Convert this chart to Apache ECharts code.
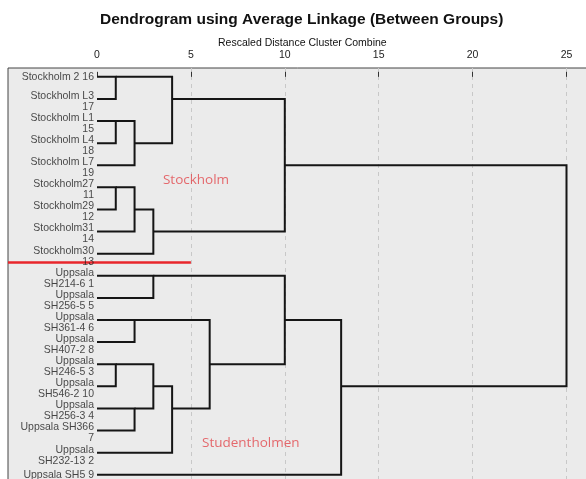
<!DOCTYPE html>
<html>
<head>
<meta charset="utf-8">
<script src="https://cdn.jsdelivr.net/npm/echarts@6/dist/echarts.min.js"></script>
<style>
  html, body { margin: 0; padding: 0; background: #fff; }
  #chart { width: 586px; height: 479px; }
</style>
</head>
<body>
<div id="chart"></div>
<script>
// leaf labels, top to bottom (SPSS wraps the case number when the name is long)
const leafLabels = [
  'Stockholm 2 16', 'Stockholm L3\n17', 'Stockholm L1\n15', 'Stockholm L4\n18',
  'Stockholm L7\n19', 'Stockholm27\n11', 'Stockholm29\n12', 'Stockholm31\n14',
  'Stockholm30\n13', 'Uppsala\nSH214-6 1', 'Uppsala\nSH256-5 5', 'Uppsala\nSH361-4 6',
  'Uppsala\nSH407-2 8', 'Uppsala\nSH246-5 3', 'Uppsala\nSH546-2 10', 'Uppsala\nSH256-3 4',
  'Uppsala SH366\n7', 'Uppsala\nSH232-13 2', 'Uppsala SH5 9'
];

// merges: [clusterA, clusterB, rescaled distance]; ids >= 19 are earlier merges
const merges = [
  [0, 1, 1], [2, 3, 1], [20, 4, 2], [19, 21, 4],
  [5, 6, 1], [23, 7, 2], [24, 8, 3], [22, 25, 10],
  [9, 10, 3], [11, 12, 2], [13, 14, 1], [15, 16, 2],
  [29, 30, 3], [31, 17, 4], [28, 32, 6], [27, 33, 10],
  [34, 18, 13], [26, 35, 25]
];

const xTicks = [0, 5, 10, 15, 20, 25];

// group annotations: [text, distance, row]
const groupNotes = [['Stockholm', 3.51, 4.67], ['Studentholmen', 5.59, 16.57]];
const separator = { row: 8.37, from: -4.74, to: 5 };

// build the elbow links, SPSS style (cluster row = lower midpoint of children rows)
const nodes = leafLabels.map((_, i) => ({ row: i, height: 0 }));
const links = merges.map(([a, b, d]) => {
  const na = nodes[a], nb = nodes[b];
  nodes.push({ row: Math.floor((na.row + nb.row) / 2), height: d });
  return { coords: [[na.height, na.row], [d, na.row], [d, nb.row], [nb.height, nb.row]] };
});

const font = '"Liberation Sans", Arial, sans-serif';
const chart = echarts.init(document.getElementById('chart'), null, { renderer: 'canvas' });

chart.setOption({
  animation: false,
  backgroundColor: '#fff',
  title: [
    {
      text: 'Dendrogram using Average Linkage (Between Groups)',
      left: 100, top: 11, padding: 0,
      textStyle: { fontFamily: font, fontSize: 15.5, fontWeight: 'bold', color: '#111', lineHeight: 18 }
    },
    {
      text: 'Rescaled Distance Cluster Combine',
      left: 218, top: 37.5, padding: 0,
      textStyle: { fontFamily: font, fontSize: 10.5, fontWeight: 'normal', color: '#111', lineHeight: 12 }
    }
  ],
  grid: [
    { left: 8, top: 68, width: 600, height: 430, show: true, outerBoundsMode: 'none',
      backgroundColor: '#ebebeb', borderColor: '#444', borderWidth: 1 },
    { left: 97, top: 68, width: 469.5, height: 420, outerBoundsMode: 'none' }
  ],
  xAxis: [
    { gridIndex: 0, type: 'value', show: false, min: 0, max: 1 },
    {
      gridIndex: 1, type: 'value', position: 'top', min: 0, max: 25, interval: 5,
      axisLine: { show: false },
      axisTick: { show: true, inside: false, length: 5, lineStyle: { color: '#333' } },
      axisLabel: { margin: 7, fontFamily: font, fontSize: 10.5, color: '#222',
        formatter: v => xTicks.includes(v) ? String(v) : '' },
      splitLine: { show: true, showMinLine: false, lineStyle: { color: '#c8c8c8', type: [4, 4], width: 1 } }
    }
  ],
  yAxis: [
    { gridIndex: 0, type: 'value', show: false, min: 0, max: 1 },
    { gridIndex: 1, type: 'value', inverse: true, min: -0.4, max: 18.6, show: false }
  ],
  series: [
    {
      type: 'lines', coordinateSystem: 'cartesian2d', xAxisIndex: 1, yAxisIndex: 1,
      polyline: true, silent: true, clip: false,
      lineStyle: { color: '#151515', width: 2, opacity: 1 },
      data: links
    },
    {
      type: 'scatter', xAxisIndex: 1, yAxisIndex: 1, symbolSize: 0, silent: true,
      data: leafLabels.map((t, i) => ({
        value: [0, i],
        label: { offset: [0, t.includes('\n') ? 2.5 : 0] }
      })),
      label: {
        show: true, position: 'left', distance: 3,
        formatter: p => leafLabels[p.dataIndex],
        fontFamily: font, fontSize: 10.5, lineHeight: 11, color: '#1a1a1a', align: 'right'
      }
    },
    {
      type: 'lines', coordinateSystem: 'cartesian2d', xAxisIndex: 1, yAxisIndex: 1,
      silent: true, clip: false,
      lineStyle: { color: '#e8262b', width: 2.5, opacity: 1 },
      data: [{ coords: [[separator.from, separator.row], [separator.to, separator.row]] }]
    },
    {
      type: 'scatter', xAxisIndex: 1, yAxisIndex: 1, symbolSize: 0, silent: true,
      data: groupNotes.map(n => [n[1], n[2]]),
      label: {
        show: true, position: 'right', distance: 0,
        formatter: p => groupNotes[p.dataIndex][0],
        fontFamily: '"Open Sans", sans-serif', fontSize: 13.5, color: '#e2474c'
      }
    }
  ]
});
</script>
</body>
</html>
